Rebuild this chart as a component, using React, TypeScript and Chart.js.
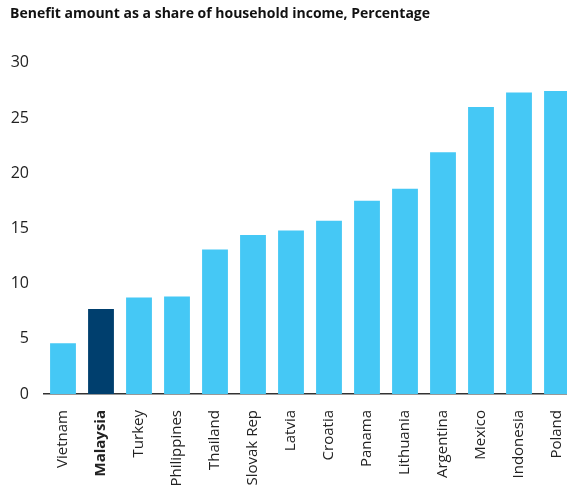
import React, { useEffect, useRef } from "react";
import { Chart, registerables } from "chart.js";

Chart.register(...registerables);

const titleText = "Benefit amount as a share of household income, Percentage";
const countries = [
  "Vietnam", "Malaysia", "Turkey", "Philippines", "Thailand", "Slovak Rep", "Latvia",
  "Croatia", "Panama", "Lithuania", "Argentina", "Mexico", "Indonesia", "Poland",
];
const shares = [4.6, 7.7, 8.75, 8.84, 13.1, 14.4, 14.8, 15.7, 17.5, 18.6, 21.9, 26.0, 27.3, 27.45];
const highlighted = ["Malaysia"];
const yTicks = [0, 5, 10, 15, 20, 25, 30];

const LIGHT = "#45C8F5";
const DARK = "#003F6E";
const FONT = "'Open Sans', 'Noto Sans', sans-serif";

export default function App() {
  const ref = useRef<HTMLCanvasElement | null>(null);
  useEffect(() => {
    document.body.style.margin = "0";
    document.body.style.overflow = "hidden";
    const chart = new Chart(ref.current as HTMLCanvasElement, {
      type: "bar",
      data: {
        labels: countries,
        datasets: [
          {
            data: shares,
            backgroundColor: countries.map((c) => (highlighted.includes(c) ? DARK : LIGHT)),
            categoryPercentage: 1,
            barPercentage: 0.68,
          },
        ],
      },
      options: {
        animation: false,
        responsive: false,
        maintainAspectRatio: false,
        layout: { padding: { left: 10, right: 0, top: 0, bottom: 0 } },
        plugins: {
          legend: { display: false },
          tooltip: { enabled: false },
          title: {
            display: true,
            text: titleText,
            align: "start",
            color: "#111",
            font: { family: FONT, size: 14, weight: "bold" },
            padding: { top: 6, bottom: 40 },
          },
        },
        scales: {
          x: {
            offset: true,
            afterFit: (s: any) => {
              s.height = 96;
              s.paddingLeft = 0;
              s.paddingRight = 0;
            },
            grid: { display: false, drawTicks: false },
            border: { display: true, color: "#333", width: 1.5 },
            ticks: {
              autoSkip: false,
              maxRotation: 90,
              minRotation: 90,
              padding: 16,
              color: "#222",
              font: (ctx: any) => ({
                family: FONT,
                size: 15,
                weight: highlighted.includes(countries[ctx.index]) ? "bold" : "normal",
              }),
            },
          },
          y: {
            min: 0,
            max: 30,
            afterFit: (s: any) => {
              s.width = 34;
              s.paddingTop = 0;
              s.paddingBottom = 0;
            },
            afterBuildTicks: (s: any) => {
              s.ticks = yTicks.map((v) => ({ value: v }));
            },
            grid: { display: false, drawTicks: false },
            border: { display: false },
            ticks: {
              padding: 15,
              color: "#222",
              font: { family: FONT, size: 16 },
            },
          },
        },
      },
    });
    return () => chart.destroy();
  }, []);
  return (
    <div style={{ position: "fixed", left: 0, top: 0, width: 567, height: 490, overflow: "hidden" }}>
      <div style={{ position: "relative", width: 576, height: 490 }}>
        <canvas ref={ref} width={576} height={490} style={{ display: "block", width: 576, height: 490, maxWidth: "none" }} />
      </div>
    </div>
  );
}
